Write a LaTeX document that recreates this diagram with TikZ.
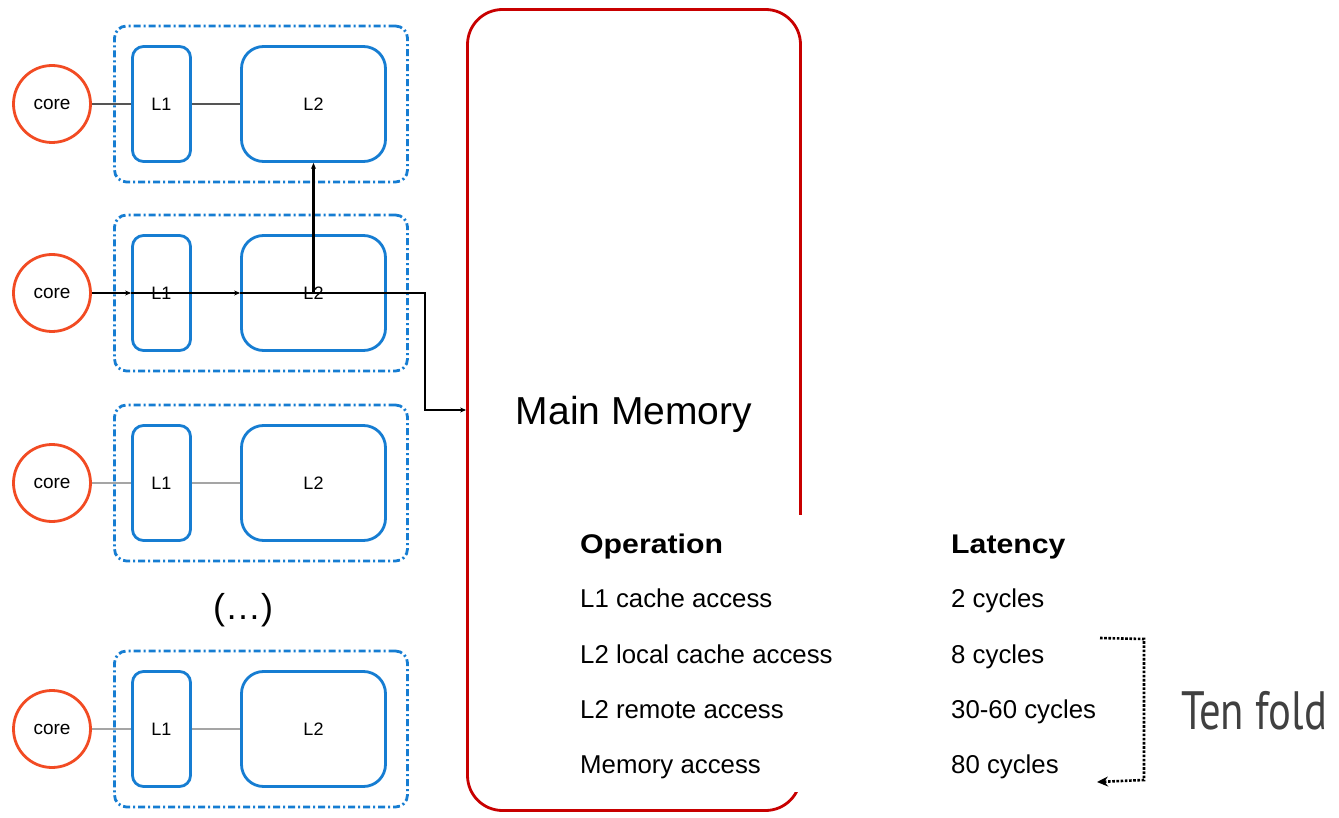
\documentclass[tikz,border=0pt]{standalone}
\usepackage{fontspec}
\usepackage{graphicx}
\setmainfont{Liberation Sans}
\newfontfamily\tenfont{PT Sans}
\usetikzlibrary{arrows.meta}
\definecolor{cblue}{RGB}{22,125,210}
\definecolor{corered}{RGB}{242,75,35}
\definecolor{memred}{RGB}{200,0,0}
\definecolor{darkline}{RGB}{85,85,85}
\definecolor{lightline}{RGB}{165,165,165}
\definecolor{tenfoldgray}{RGB}{64,64,64}
\begin{document}
\begin{tikzpicture}[x=1pt,y=-1pt,
  corenode/.style={circle,draw=corered,line width=2.8pt,minimum size=77pt,inner sep=0pt,font=\fontsize{19}{22}\selectfont},
  lonebox/.style={draw=cblue,line width=2.8pt,rounded corners=11pt,minimum width=58pt,minimum height=115pt,inner sep=0pt,font=\fontsize{18}{21}\selectfont},
  ltwobox/.style={draw=cblue,line width=2.8pt,rounded corners=22pt,minimum width=144pt,minimum height=115pt,inner sep=0pt,font=\fontsize{18}{21}\selectfont},
  groupbox/.style={draw=cblue,line width=2.8pt,rounded corners=12pt,dash pattern=on 7pt off 3pt on 2pt off 3pt,minimum width=293pt,minimum height=156pt,inner sep=0pt},
  memnode/.style={draw=memred,line width=2.8pt,rounded corners=35pt,minimum width=333pt,minimum height=801pt,inner sep=0pt,text height=36pt,text depth=8pt,font=\fontsize{39}{46}\selectfont},
  darkconn/.style={draw=darkline,line width=1.3pt},
  lightconn/.style={draw=lightline,line width=1.6pt},
  pathconn/.style={draw=black,line width=2.2pt},
  smalltip/.style={-{Stealth[length=6pt,width=5pt]}},
  tabtxt/.style={anchor=base west,inner sep=0pt,font=\fontsize{25.8}{30}\selectfont},
  tabhead/.style={anchor=base west,inner sep=0pt,font=\fontsize{27}{30}\selectfont\bfseries},
]
\useasboundingbox (0,0) rectangle (1339,818);
\fill[white] (0,0) rectangle (1339,818);

% main memory
\node[memnode] (mm) at (634,410) {Main Memory};
\fill[white] (780,515) rectangle (830,792);

% rows
\foreach \i/\y in {1/104,2/293,3/483,4/729}{
  \node[groupbox] (g\i) at (261,\y) {};
  \node[corenode] (c\i) at (52,\y) {core};
  \node[lonebox] (a\i) at (161.5,\y) {L1};
  \node[ltwobox] (b\i) at (313.5,\y) {L2};
}

\draw[darkconn] (c1.east) -- (a1.west);
\draw[darkconn] (a1.east) -- (b1.west);
\draw[lightconn] (c3.east) -- (a3.west);
\draw[lightconn] (a3.east) -- (b3.west);
\draw[lightconn] (c4.east) -- (a4.west);
\draw[lightconn] (a4.east) -- (b4.west);

% highlighted path
\coordinate (turn) at (425,293);
\draw[pathconn,smalltip] (c2.east) -- (a2.west);
\draw[pathconn,smalltip] (a2.west) -- (b2.west);
\draw[pathconn,smalltip] (b2.west) -- (turn) |- (mm.west);
\draw[pathconn,smalltip] (b2.center) -- (b1.south);

\node[font=\fontsize{36}{40}\selectfont] (dots) at (243,610) {(…)};

% table
\node[tabhead] (oph) at (580,553) {\scalebox{1.12}[1]{Operation}};
\node[tabtxt] (op1) at (580,607) {L1 cache access};
\node[tabtxt] (op2) at (580,663) {L2 local cache access};
\node[tabtxt] (op3) at (580,718) {L2 remote access};
\node[tabtxt] (op4) at (580,773) {Memory access};
\node[tabhead] (lah) at (951,553) {\scalebox{1.12}[1]{Latency}};
\node[tabtxt] (la1) at (951,607) {2 cycles};
\node[tabtxt] (la2) at (951,663) {8 cycles};
\node[tabtxt] (la3) at (951,718) {30-60 cycles};
\node[tabtxt] (la4) at (951,773) {80 cycles};

% bracket
\coordinate (brs) at (1100,638);
\coordinate (bre) at (1097,782);
\draw[black,line width=2.6pt,dash pattern=on 2.6pt off 1.6pt,-{Stealth[length=11pt,width=10pt]}]
  (brs) -- (1144,639) -- (1144,780) -- (bre);

\node[anchor=base,inner sep=0pt,text=tenfoldgray,font=\tenfont\fontsize{54}{60}\selectfont] (tf) at (1254,729) {\scalebox{0.79}[1]{Ten fold}};
\end{tikzpicture}
\end{document}
